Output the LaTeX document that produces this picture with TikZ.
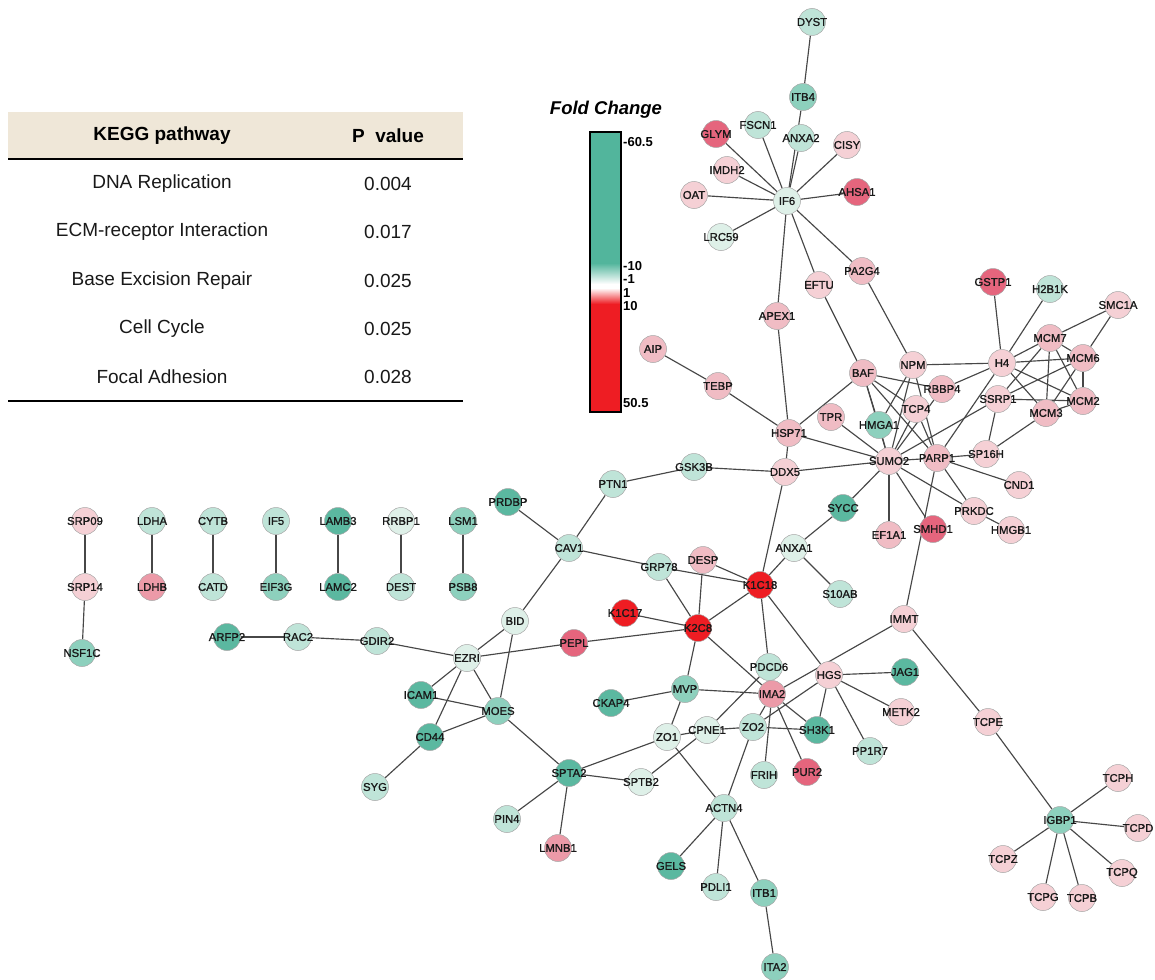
\documentclass[tikz,border=0pt]{standalone}
\usepackage{fontspec}
\setmainfont{Liberation Sans}
\newfontfamily\nodefont{Liberation Sans}[RawFeature={embolden=1.2}]
\usetikzlibrary{backgrounds}
\definecolor{tD}{HTML}{5BB8A0}
\definecolor{tM}{HTML}{8DD0BD}
\definecolor{tL}{HTML}{BFE4D8}
\definecolor{tVL}{HTML}{DEF0E8}
\definecolor{pkL}{HTML}{F5D0D5}
\definecolor{pk}{HTML}{F0BCC4}
\definecolor{pkM}{HTML}{EC9AA8}
\definecolor{pkD}{HTML}{E5657D}
\definecolor{rd}{HTML}{EE1D23}
\definecolor{barteal}{HTML}{52B59C}
\definecolor{tabbg}{HTML}{EFE7D8}
\newcommand\gnode[5]{\node[nd,fill=#4] (#1) at (#2,#3) {\makebox[0pt]{#5}};}
\begin{document}
\begin{tikzpicture}[x=1pt,y=-1pt,
  nd/.style={circle,draw=black!35,line width=0.5pt,minimum size=27pt,inner sep=0pt,font=\nodefont\fontsize{11.3}{11.3}\selectfont,text=black!90},
  ed/.style={draw=black!72,line width=1.15pt},
  tabtxt/.style={font=\fontsize{19}{19}\selectfont,text=black!90},
  tabhead/.style={font=\bfseries\fontsize{19}{19}\selectfont},
  barlab/.style={anchor=west,font=\bfseries\fontsize{13}{13}\selectfont,inner sep=0pt}]
\useasboundingbox (0,0) rectangle (1155,979);
% ---------- table ----------
\fill[tabbg] (8,112) rectangle (463,159);
\draw[line width=1.6pt] (8,159) -- (463,159);
\draw[line width=1.6pt] (8,401) -- (463,401);
\node[tabhead] (h1) at (162,136) {KEGG pathway};
\node[tabhead] (h2) at (388,136) {P\ \ value};
\node[tabtxt] (r1a) at (162,184) {DNA Replication};
\node[tabtxt] (r1b) at (388,184) {0.004};
\node[tabtxt] (r2a) at (162,232) {ECM-receptor Interaction};
\node[tabtxt] (r2b) at (388,232) {0.017};
\node[tabtxt] (r3a) at (162,281) {Base Excision Repair};
\node[tabtxt] (r3b) at (388,281) {0.025};
\node[tabtxt] (r4a) at (162,329) {Cell Cycle};
\node[tabtxt] (r4b) at (388,329) {0.025};
\node[tabtxt] (r5a) at (162,377) {Focal Adhesion};
\node[tabtxt] (r5b) at (388,377) {0.028};
% ---------- colour bar ----------
\node[font=\bfseries\itshape\fontsize{18.5}{18.5}\selectfont] (fc) at (606,110) {Fold Change};
\fill[barteal] (590,132) rectangle (621,263);
\shade[top color=barteal,bottom color=white] (590,263) rectangle (621,284);
\fill[white] (590,284) rectangle (621,288);
\shade[top color=white,bottom color=rd] (590,288) rectangle (621,304);
\fill[rd] (590,304) rectangle (621,412);
\draw[line width=1.3pt] (590,132) rectangle (621,412);
\node[barlab] (b1) at (623,142) {-60.5};
\node[barlab] (b2) at (623,266) {-10};
\node[barlab] (b3) at (623,279) {-1};
\node[barlab] (b4) at (623,293) {1};
\node[barlab] (b5) at (623,306) {10};
\node[barlab] (b6) at (623,403) {50.5};
% ---------- nodes ----------
\gnode{SRP09}{85}{521}{pkL}{SRP09}
\gnode{LDHA}{152}{521}{tL}{LDHA}
\gnode{CYTB}{213}{521}{tL}{CYTB}
\gnode{IF5}{276}{521}{tL}{IF5}
\gnode{LAMB3}{338}{521}{tD}{LAMB3}
\gnode{RRBP1}{401}{521}{tVL}{RRBP1}
\gnode{LSM1}{463}{521}{tM}{LSM1}
\gnode{SRP14}{85}{587}{pkL}{SRP14}
\gnode{LDHB}{152}{587}{pkM}{LDHB}
\gnode{CATD}{213}{587}{tL}{CATD}
\gnode{EIF3G}{276}{587}{tM}{EIF3G}
\gnode{LAMC2}{338}{587}{tD}{LAMC2}
\gnode{DEST}{401}{587}{tL}{DEST}
\gnode{PSB8}{463}{587}{tM}{PSB8}
\gnode{NSF1C}{82}{653}{tM}{NSF1C}
% IF6 cluster
\gnode{DYST}{812}{22}{tL}{DYST}
\gnode{ITB4}{803}{97}{tM}{ITB4}
\gnode{FSCN1}{758}{125}{tL}{FSCN1}
\gnode{ANXA2}{801}{138}{tL}{ANXA2}
\gnode{GLYM}{716}{134}{pkD}{GLYM}
\gnode{CISY}{847}{145}{pkL}{CISY}
\gnode{IMDH2}{727}{170}{pkL}{IMDH2}
\gnode{OAT}{694}{195}{pkL}{OAT}
\gnode{IF6}{787}{201}{tVL}{IF6}
\gnode{AHSA1}{857}{192}{pkD}{AHSA1}
\gnode{LRC59}{721}{237}{tVL}{LRC59}
\gnode{PA2G4}{862}{271}{pk}{PA2G4}
\gnode{EFTU}{819}{285}{pkL}{EFTU}
\gnode{APEX1}{777}{316}{pk}{APEX1}
\gnode{AIP}{653}{349}{pk}{AIP}
\gnode{TEBP}{718}{386}{pk}{TEBP}
% upper right
\gnode{BAF}{863}{373}{pk}{BAF}
\gnode{NPM}{913}{365}{pkL}{NPM}
\gnode{RBBP4}{942}{389}{pk}{RBBP4}
\gnode{TCP4}{916}{409}{pkL}{TCP4}
\gnode{TPR}{831}{417}{pk}{TPR}
\gnode{HMGA1}{879}{425}{tM}{HMGA1}
\gnode{HSP71}{789}{433}{pk}{HSP71}
\gnode{GSTP1}{993}{282}{pkD}{GSTP1}
\gnode{H2B1K}{1050}{289}{tL}{H2B1K}
\gnode{SMC1A}{1118}{305}{pkL}{SMC1A}
\gnode{MCM7}{1050}{338}{pk}{MCM7}
\gnode{MCM6}{1083}{358}{pk}{MCM6}
\gnode{H4}{1002}{363}{pkL}{H4}
\gnode{SSRP1}{998}{399}{pkL}{SSRP1}
\gnode{MCM2}{1083}{401}{pk}{MCM2}
\gnode{MCM3}{1046}{413}{pk}{MCM3}
\gnode{SP16H}{986}{454}{pkL}{SP16H}
\gnode{SUMO2}{889}{461}{pkL}{SUMO2}
\gnode{PARP1}{937}{458}{pk}{PARP1}
\gnode{CND1}{1019}{485}{pkL}{CND1}
\gnode{PRKDC}{974}{511}{pkL}{PRKDC}
\gnode{HMGB1}{1011}{530}{pkL}{HMGB1}
\gnode{SMHD1}{933}{529}{pkD}{SMHD1}
\gnode{EF1A1}{889}{535}{pk}{EF1A1}
\gnode{SYCC}{843}{508}{tD}{SYCC}
\gnode{DDX5}{785}{472}{pkL}{DDX5}
% middle
\gnode{GSK3B}{694}{467}{tL}{GSK3B}
\gnode{PTN1}{613}{484}{tL}{PTN1}
\gnode{PRDBP}{508}{502}{tD}{PRDBP}
\gnode{CAV1}{569}{548}{tL}{CAV1}
\gnode{GRP78}{659}{567}{tL}{GRP78}
\gnode{DESP}{703}{560}{pk}{DESP}
\gnode{K1C18}{760}{585}{rd}{K1C18}
\gnode{ANXA1}{794}{548}{tVL}{ANXA1}
\gnode{S10AB}{840}{594}{tL}{S10AB}
\gnode{BID}{515}{621}{tVL}{BID}
\gnode{K1C17}{625}{613}{rd}{K1C17}
\gnode{K2C8}{698}{628}{rd}{K2C8}
\gnode{PEPL}{574}{643}{pkD}{PEPL}
\gnode{IMMT}{904}{619}{pkL}{IMMT}
% left lower
\gnode{ARFP2}{227}{637}{tD}{ARFP2}
\gnode{RAC2}{298}{637}{tL}{RAC2}
\gnode{GDIR2}{377}{641}{tL}{GDIR2}
\gnode{EZRI}{467}{658}{tVL}{EZRI}
\gnode{ICAM1}{421}{695}{tD}{ICAM1}
\gnode{MOES}{498}{711}{tM}{MOES}
\gnode{CD44}{430}{737}{tD}{CD44}
\gnode{SYG}{375}{787}{tL}{SYG}
\gnode{SPTA2}{569}{773}{tD}{SPTA2}
\gnode{PIN4}{507}{819}{tL}{PIN4}
\gnode{LMNB1}{558}{848}{pkM}{LMNB1}
\gnode{SPTB2}{641}{782}{tVL}{SPTB2}
% lower middle
\gnode{MVP}{685}{689}{tM}{MVP}
\gnode{CKAP4}{611}{703}{tD}{CKAP4}
\gnode{ZO1}{667}{737}{tVL}{ZO1}
\gnode{CPNE1}{707}{730}{tVL}{CPNE1}
\gnode{PDCD6}{769}{667}{tL}{PDCD6}
\gnode{IMA2}{772}{694}{pkM}{IMA2}
\gnode{HGS}{829}{675}{pkL}{HGS}
\gnode{JAG1}{905}{672}{tD}{JAG1}
\gnode{METK2}{901}{712}{pkL}{METK2}
\gnode{ZO2}{753}{727}{tL}{ZO2}
\gnode{SH3K1}{817}{730}{tD}{SH3K1}
\gnode{PP1R7}{870}{751}{tL}{PP1R7}
\gnode{FRIH}{764}{775}{tL}{FRIH}
\gnode{PUR2}{807}{772}{pkD}{PUR2}
\gnode{ACTN4}{724}{808}{tL}{ACTN4}
\gnode{GELS}{671}{866}{tD}{GELS}
\gnode{PDLI1}{716}{887}{tL}{PDLI1}
\gnode{ITB1}{764}{893}{tM}{ITB1}
\gnode{ITA2}{775}{967}{tM}{ITA2}
% right lower
\gnode{TCPE}{988}{722}{pkL}{TCPE}
\gnode{IGBP1}{1060}{820}{tM}{IGBP1}
\gnode{TCPH}{1118}{778}{pkL}{TCPH}
\gnode{TCPD}{1138}{828}{pkL}{TCPD}
\gnode{TCPZ}{1003}{859}{pkL}{TCPZ}
\gnode{TCPQ}{1122}{873}{pkL}{TCPQ}
\gnode{TCPG}{1043}{897}{pkL}{TCPG}
\gnode{TCPB}{1082}{898}{pkL}{TCPB}
% ---------- edges ----------
\begin{pgfonlayer}{background}
\fill[white] (0,0) rectangle (1155,979);
\foreach \a/\b in {SRP09/SRP14,SRP14/NSF1C,LDHA/LDHB,CYTB/CATD,IF5/EIF3G,LAMB3/LAMC2,RRBP1/DEST,LSM1/PSB8,
  IF6/GLYM,IF6/FSCN1,IF6/ANXA2,IF6/ITB4,ITB4/DYST,IF6/CISY,IF6/IMDH2,IF6/OAT,IF6/AHSA1,IF6/LRC59,IF6/APEX1,IF6/EFTU,IF6/PA2G4,
  APEX1/HSP71,EFTU/BAF,PA2G4/NPM,AIP/TEBP,TEBP/HSP71,HSP71/BAF,HSP71/SUMO2,HSP71/DDX5,TPR/SUMO2,
  BAF/RBBP4,BAF/TCP4,BAF/HMGA1,BAF/PARP1,BAF/SUMO2,
  NPM/H4,NPM/HMGA1,NPM/SUMO2,NPM/PARP1,
  RBBP4/H4,RBBP4/SUMO2,TCP4/SUMO2,TCP4/PARP1,HMGA1/SUMO2,
  H4/GSTP1,H4/H2B1K,H4/MCM7,H4/MCM6,H4/MCM2,H4/MCM3,H4/PARP1,
  MCM7/SMC1A,MCM6/SMC1A,MCM7/MCM6,MCM7/MCM2,MCM7/MCM3,MCM7/SSRP1,MCM6/MCM2,MCM6/MCM3,MCM6/SSRP1,
  MCM2/SSRP1,MCM2/MCM3,MCM3/SP16H,SSRP1/SP16H,SSRP1/SUMO2,SP16H/PARP1,
  SUMO2/PARP1,SUMO2/DDX5,SUMO2/SYCC,SUMO2/EF1A1,SUMO2/SMHD1,SUMO2/PRKDC,PARP1/CND1,PARP1/PRKDC,PARP1/IMMT,PRKDC/HMGB1,
  DDX5/GSK3B,GSK3B/PTN1,PTN1/CAV1,CAV1/PRDBP,CAV1/BID,CAV1/GRP78,GRP78/K1C18,GRP78/K2C8,DESP/K1C18,DESP/K2C8,
  K1C17/K2C8,K1C18/K2C8,K1C18/ANXA1,ANXA1/SYCC,ANXA1/S10AB,DDX5/K1C18,K1C18/PDCD6,K1C18/HGS,
  K2C8/IMA2,K2C8/MVP,K2C8/PEPL,PEPL/EZRI,
  EZRI/GDIR2,GDIR2/RAC2,RAC2/ARFP2,EZRI/BID,EZRI/ICAM1,EZRI/CD44,EZRI/MOES,BID/MOES,ICAM1/MOES,CD44/MOES,CD44/SYG,
  MOES/SPTA2,SPTA2/ZO1,SPTA2/SPTB2,SPTA2/PIN4,SPTA2/LMNB1,
  MVP/CKAP4,MVP/IMA2,MVP/ZO1,ZO1/CPNE1,ZO1/ACTN4,CPNE1/ZO2,CPNE1/PDCD6,SPTB2/CPNE1,
  ZO2/SH3K1,ZO2/ACTN4,ZO2/HGS,IMA2/ZO2,IMA2/FRIH,IMA2/PUR2,IMA2/SH3K1,IMMT/IMA2,
  HGS/JAG1,HGS/METK2,HGS/PP1R7,HGS/SH3K1,
  IMMT/TCPE,TCPE/IGBP1,IGBP1/TCPH,IGBP1/TCPD,IGBP1/TCPQ,IGBP1/TCPB,IGBP1/TCPG,IGBP1/TCPZ,
  ACTN4/GELS,ACTN4/PDLI1,ACTN4/ITB1,ITB1/ITA2}
  {\draw[ed] (\a) -- (\b);}
\end{pgfonlayer}
\end{tikzpicture}
\end{document}
